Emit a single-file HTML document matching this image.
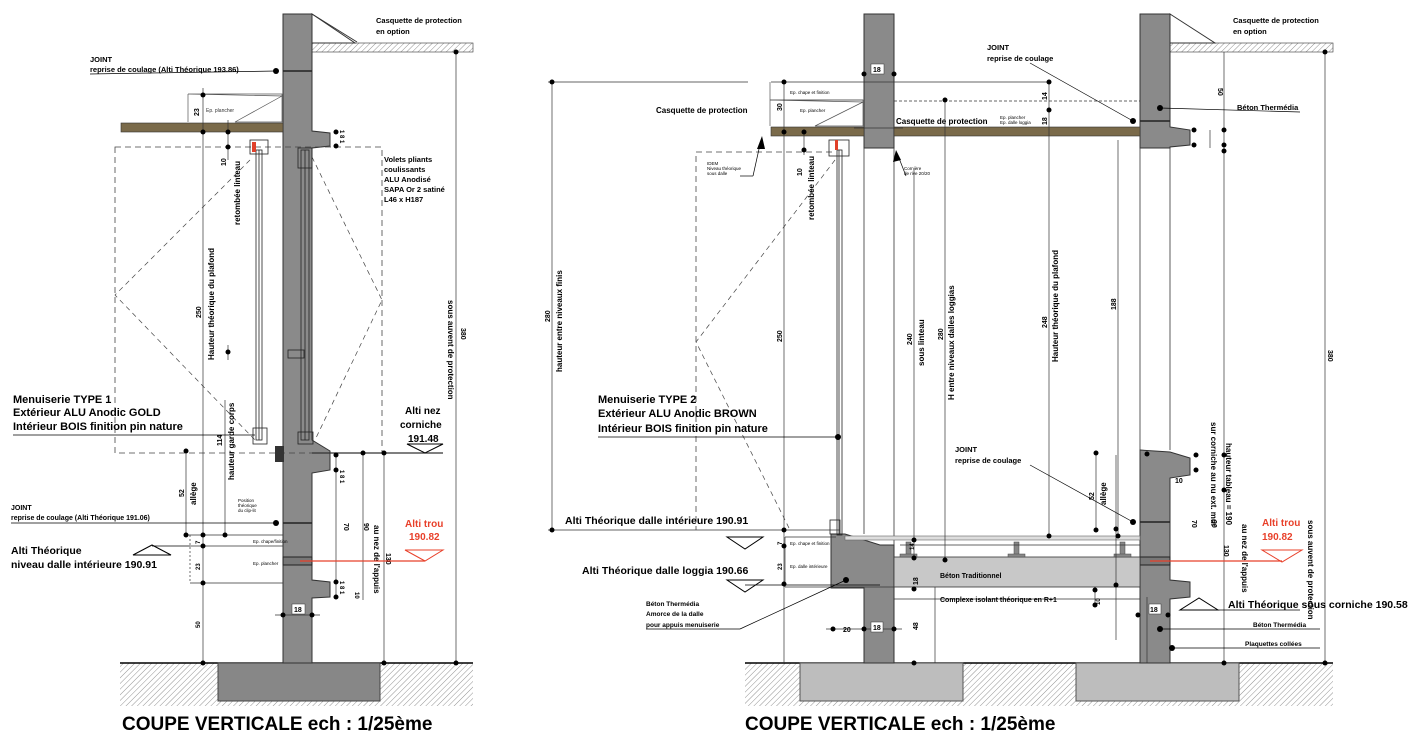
<!DOCTYPE html>
<html><head><meta charset="utf-8"><style>
html,body{margin:0;padding:0;background:#fff;}
svg{display:block;font-family:"Liberation Sans",sans-serif;}
.b{font-weight:bold;}
</style></head><body>
<svg width="1426" height="741" viewBox="0 0 1426 741" xmlns="http://www.w3.org/2000/svg">
<defs>
<pattern id="h" width="4" height="4" patternUnits="userSpaceOnUse" patternTransform="rotate(45)">
<line x1="0" y1="0" x2="0" y2="4" stroke="#777" stroke-width="0.8"/></pattern>
</defs>
<rect width="1426" height="741" fill="#fff"/>

<!-- ============ LEFT DRAWING ============ -->
<rect x="120" y="663" width="353" height="43" fill="url(#h)"/>
<line x1="120" y1="663" x2="473" y2="663" stroke="#000" stroke-width="1.5"/>
<rect x="218" y="663" width="162" height="38" fill="#878787" stroke="#444"/>
<polygon points="283,14 312,14 312,131 330,133 330,146 312,148 312,440 330,451 330,470 312,473 312,580 330,582 330,597 312,598 312,663 283,663" fill="#8a8a8a" stroke="#333"/>
<line x1="283" y1="71" x2="312" y2="71" stroke="#222" stroke-width="1.5"/>
<line x1="283" y1="523" x2="312" y2="523" stroke="#222" stroke-width="1.5"/>
<rect x="283" y="557" width="29" height="8" fill="#777" stroke="#222"/>
<polygon points="312,14 355,43 312,43" fill="#fff" stroke="#333"/>
<line x1="312" y1="14" x2="357" y2="42" stroke="#333"/>
<rect x="312" y="43" width="161" height="9" fill="url(#h)" stroke="#333" stroke-width="0.6"/>
<rect x="121" y="123" width="162" height="9" fill="#7a6a4a" stroke="#333" stroke-width="0.6"/>
<polygon points="188,94 282,94 282,122 235,122 282,96" fill="none" stroke="#555" stroke-width="0.7"/>
<line x1="188" y1="94" x2="188" y2="122" stroke="#555" stroke-width="0.7"/>
<text x="206" y="112" font-size="5" fill="#333">Ep. plancher</text>
<text transform="translate(199,116) rotate(-90)" font-size="7" class="b">23</text>
<rect x="115" y="147" width="267" height="306" fill="none" stroke="#444" stroke-dasharray="6,4" stroke-width="0.8"/>
<polyline points="250,160 115,295 255,440" fill="none" stroke="#444" stroke-dasharray="5,4" stroke-width="0.7"/>
<polyline points="312,157 382,300 315,440" fill="none" stroke="#444" stroke-dasharray="5,4" stroke-width="0.7"/>
<g stroke="#222" stroke-width="0.8" fill="none">
<rect x="256" y="150" width="6" height="290"/><line x1="259" y1="150" x2="259" y2="440"/>
<rect x="301" y="150" width="8" height="290"/><line x1="305" y1="150" x2="305" y2="440"/>
<rect x="250" y="140" width="18" height="14"/><rect x="253" y="428" width="14" height="16"/>
<rect x="298" y="148" width="14" height="20"/><rect x="298" y="432" width="15" height="12"/>
<rect x="288" y="350" width="16" height="8"/>
</g>
<rect x="252" y="142" width="4" height="10" fill="#e0402a"/>
<rect x="275" y="446" width="9" height="16" fill="#333"/>
<g stroke="#333" stroke-width="0.7">
<line x1="203" y1="88" x2="203" y2="663"/>
<line x1="228" y1="120" x2="228" y2="160"/>
<line x1="228" y1="345" x2="228" y2="360"/>
<line x1="186" y1="450" x2="186" y2="535"/>
<line x1="225" y1="400" x2="225" y2="535"/>
<line x1="336" y1="455" x2="336" y2="597"/>
<line x1="363" y1="453" x2="363" y2="600"/>
<line x1="384" y1="453" x2="384" y2="663"/>
<line x1="456" y1="52" x2="456" y2="663"/>
<line x1="185" y1="535" x2="283" y2="535"/>
<line x1="190" y1="546" x2="283" y2="546"/>
<line x1="190" y1="583" x2="283" y2="583"/>
<line x1="190" y1="535" x2="190" y2="583" stroke-dasharray="2,2"/>
<line x1="275" y1="615" x2="320" y2="615"/>
<line x1="312" y1="453" x2="443" y2="453" stroke-width="1.2"/>
</g>
<g fill="#000">
<circle cx="203" cy="132" r="2.5"/><circle cx="203" cy="95" r="2.5"/><circle cx="228" cy="132" r="2.5"/><circle cx="228" cy="147" r="2.5"/>
<circle cx="228" cy="352" r="2.5"/><circle cx="186" cy="451" r="2.5"/><circle cx="186" cy="535" r="2.5"/><circle cx="203" cy="535" r="2.5"/><circle cx="225" cy="535" r="2.5"/>
<circle cx="203" cy="546" r="2.5"/><circle cx="203" cy="583" r="2.5"/><circle cx="203" cy="663" r="2.5"/>
<circle cx="336" cy="455" r="2.5"/><circle cx="336" cy="470" r="2.5"/><circle cx="336" cy="582" r="2.5"/><circle cx="336" cy="597" r="2.5"/>
<circle cx="363" cy="453" r="2.5"/><circle cx="384" cy="453" r="2.5"/><circle cx="384" cy="663" r="2.5"/><circle cx="456" cy="52" r="2.5"/><circle cx="456" cy="663" r="2.5"/>
<circle cx="283" cy="615" r="2.5"/><circle cx="312" cy="615" r="2.5"/>
<circle cx="336" cy="132" r="2.5"/><circle cx="336" cy="146" r="2.5"/>
</g>
<text transform="translate(201,318) rotate(-90)" font-size="7" class="b">250</text>
<text transform="translate(214,360) rotate(-90)" font-size="8" class="b">Hauteur théorique du plafond</text>
<text transform="translate(226,166) rotate(-90)" font-size="7" class="b">10</text>
<text transform="translate(240,225) rotate(-90)" font-size="8" class="b">retombée linteau</text>
<text transform="translate(184,497) rotate(-90)" font-size="7" class="b">52</text>
<text transform="translate(196,505) rotate(-90)" font-size="8" class="b">allège</text>
<text transform="translate(222,446) rotate(-90)" font-size="7" class="b">114</text>
<text transform="translate(234,480) rotate(-90)" font-size="8" class="b">hauteur garde corps</text>
<text transform="translate(200,544) rotate(-90)" font-size="6" class="b">7</text>
<text transform="translate(200,570) rotate(-90)" font-size="6" class="b">23</text>
<text transform="translate(200,628) rotate(-90)" font-size="6" class="b">50</text>
<text x="253" y="543" font-size="4.5">Ep. chape/finition</text>
<text x="253" y="565" font-size="4.5">Ep. plancher</text>
<text x="238" y="502" font-size="4.5">Position</text><text x="238" y="507" font-size="4.5">théorique</text><text x="238" y="512" font-size="4.5">du clip-lit</text>
<rect x="292" y="604" width="13" height="10" fill="#fff" stroke="#333" stroke-width="0.5"/>
<text x="294" y="612" font-size="7" class="b">18</text>
<text transform="translate(340,470) rotate(90)" font-size="6" class="b">1 8 1</text>
<text transform="translate(340,581) rotate(90)" font-size="6" class="b">1 8 1</text>
<text transform="translate(340,130) rotate(90)" font-size="6" class="b">1 8 1</text>
<text transform="translate(344,523) rotate(90)" font-size="7" class="b">70</text>
<text transform="translate(364,523) rotate(90)" font-size="7" class="b">90</text>
<text transform="translate(374,525) rotate(90)" font-size="8" class="b">au nez de l'appuis</text>
<text transform="translate(386,553) rotate(90)" font-size="7" class="b">130</text>
<text transform="translate(448,300) rotate(90)" font-size="8" class="b">sous auvent de protection</text>
<text transform="translate(461,328) rotate(90)" font-size="7" class="b">380</text>
<text transform="translate(355,592) rotate(90)" font-size="6" class="b">10</text>

<text x="90" y="62" font-size="7.5" class="b">JOINT</text>
<text x="90" y="72" font-size="7.5" class="b">reprise de coulage (Alti Théorique 193.86)</text>
<line x1="90" y1="74" x2="276" y2="71" stroke="#000" stroke-width="0.8"/><circle cx="276" cy="71" r="3"/>
<text x="384" y="162" font-size="7.5" class="b">Volets pliants</text>
<text x="384" y="172" font-size="7.5" class="b">coulissants</text>
<text x="384" y="182" font-size="7.5" class="b">ALU Anodisé</text>
<text x="384" y="192" font-size="7.5" class="b">SAPA Or 2 satiné</text>
<text x="384" y="202" font-size="7.5" class="b">L46 x H187</text>
<text x="376" y="23" font-size="7.5" class="b">Casquette de protection</text>
<text x="376" y="34" font-size="7.5" class="b">en option</text>
<text x="13" y="403" font-size="11" class="b">Menuiserie TYPE 1</text>
<text x="13" y="416" font-size="11" class="b">Extérieur ALU Anodic GOLD</text>
<text x="13" y="430" font-size="11" class="b">Intérieur BOIS finition pin nature</text>
<line x1="13" y1="435" x2="255" y2="435" stroke="#000" stroke-width="0.8"/>
<text x="405" y="414" font-size="10" class="b">Alti nez</text>
<text x="400" y="428" font-size="10" class="b">corniche</text>
<text x="408" y="442" font-size="10" class="b">191.48</text>
<polygon points="407,444 443,444 425,453" fill="#fff" stroke="#000"/>
<text x="405" y="527" font-size="10" class="b" fill="#e8402a">Alti trou</text>
<text x="409" y="540" font-size="10" class="b" fill="#e8402a">190.82</text>
<polygon points="405,550 443,550 425,561" fill="#fff" stroke="#e8402a"/>
<line x1="300" y1="561" x2="425" y2="561" stroke="#e8402a" stroke-width="1.2"/>
<text x="11" y="510" font-size="7" class="b">JOINT</text>
<text x="11" y="520" font-size="7" class="b">reprise de coulage (Alti Théorique 191.06)</text>
<line x1="11" y1="523" x2="276" y2="523" stroke="#000" stroke-width="0.8"/><circle cx="276" cy="523" r="3"/>
<text x="11" y="554" font-size="10.5" class="b">Alti Théorique</text>
<text x="11" y="568" font-size="10.5" class="b">niveau dalle intérieure 190.91</text>
<polygon points="133,555 171,555 152,545" fill="#fff" stroke="#000"/>
<line x1="152" y1="546" x2="190" y2="546" stroke="#000" stroke-width="0.8"/>
<text x="122" y="730" font-size="19" class="b">COUPE VERTICALE ech : 1/25ème</text>

<!-- ============ RIGHT DRAWING ============ -->
<rect x="745" y="663" width="588" height="43" fill="url(#h)"/>
<line x1="745" y1="663" x2="1333" y2="663" stroke="#000" stroke-width="1.5"/>
<rect x="800" y="663" width="163" height="38" fill="#bdbdbd" stroke="#555"/>
<rect x="1076" y="663" width="163" height="38" fill="#bdbdbd" stroke="#555"/>
<rect x="864" y="14" width="30" height="134" fill="#8a8a8a" stroke="#333"/>
<polygon points="831,534 845,534 880,545 894,545 894,663 864,663 864,588 831,588" fill="#8a8a8a" stroke="#333"/>
<polygon points="1140,14 1170,14 1170,127 1190,130 1190,145 1170,147 1170,148 1140,148" fill="#8a8a8a" stroke="#333"/>
<polygon points="1140,450 1170,452 1190,458 1190,475 1170,478 1170,580 1190,582 1190,597 1170,599 1170,663 1140,663" fill="#8a8a8a" stroke="#333"/>
<line x1="1140" y1="121" x2="1170" y2="121" stroke="#222" stroke-width="1.5"/>
<line x1="1140" y1="522" x2="1170" y2="522" stroke="#222" stroke-width="1.5"/>
<rect x="1140" y="557" width="30" height="8" fill="#777" stroke="#222"/>
<line x1="1140" y1="148" x2="1140" y2="450" stroke="#333" stroke-width="0.8"/>
<line x1="1170" y1="148" x2="1170" y2="450" stroke="#333" stroke-width="0.8"/>
<line x1="864" y1="148" x2="864" y2="534" stroke="#333" stroke-width="0.8"/>
<line x1="894" y1="148" x2="894" y2="545" stroke="#333" stroke-width="0.8"/>
<polygon points="1170,14 1215,43 1170,43" fill="#fff" stroke="#333"/>
<rect x="1170" y="43" width="163" height="9" fill="url(#h)" stroke="#333" stroke-width="0.6"/>
<rect x="771" y="127" width="93" height="9" fill="#7a6a4a" stroke="#333" stroke-width="0.6"/>
<rect x="894" y="127" width="246" height="9" fill="#7a6a4a" stroke="#333" stroke-width="0.6"/>
<polygon points="770,100 863,100 863,126 815,126 863,102" fill="none" stroke="#555" stroke-width="0.7"/>
<line x1="770" y1="82" x2="770" y2="126" stroke="#555" stroke-width="0.7"/>
<line x1="770" y1="100" x2="863" y2="100" stroke="#555" stroke-width="0.7"/>
<text x="790" y="94" font-size="4.5">Ep. chape et finition</text>
<text x="800" y="112" font-size="4.5">Ep. plancher</text>
<rect x="894" y="557" width="246" height="30" fill="#c8c8c8" stroke="#333" stroke-width="0.8"/>
<line x1="894" y1="599" x2="1140" y2="599" stroke="#333" stroke-width="0.8"/>
<rect x="845" y="536" width="295" height="4" fill="#ddd" stroke="#666" stroke-width="0.6"/>
<g fill="#888" stroke="#444" stroke-width="0.5">
<rect x="906" y="542" width="5" height="14"/><rect x="900" y="554" width="17" height="3"/>
<rect x="1014" y="542" width="5" height="14"/><rect x="1008" y="554" width="17" height="3"/>
<rect x="1120" y="542" width="5" height="14"/><rect x="1114" y="554" width="17" height="3"/>
</g>
<polyline points="832,152 696,152 696,530" fill="none" stroke="#444" stroke-dasharray="6,4" stroke-width="0.8"/>
<polyline points="835,160 696,342 790,530" fill="none" stroke="#444" stroke-dasharray="5,4" stroke-width="0.7"/>
<g stroke="#222" stroke-width="0.8" fill="none">
<rect x="837" y="150" width="5" height="385"/><line x1="839" y1="150" x2="839" y2="535"/>
<rect x="829" y="140" width="20" height="16"/><rect x="830" y="520" width="10" height="14"/>
</g>
<rect x="835" y="140" width="3" height="10" fill="#e0402a"/>
<g stroke="#333" stroke-width="0.7">
<line x1="552" y1="82" x2="552" y2="530"/><line x1="548" y1="82" x2="748" y2="82"/>
<line x1="784" y1="82" x2="784" y2="663"/>
<line x1="804" y1="130" x2="804" y2="155"/>
<line x1="914" y1="170" x2="914" y2="560"/>
<line x1="945" y1="100" x2="945" y2="560"/>
<line x1="1049" y1="82" x2="1049" y2="536"/>
<line x1="1118" y1="140" x2="1118" y2="536"/>
<line x1="1224" y1="52" x2="1224" y2="663"/>
<line x1="1325" y1="52" x2="1325" y2="663"/>
<line x1="1210" y1="130" x2="1210" y2="148"/>
<line x1="771" y1="82" x2="1050" y2="82"/>
<line x1="894" y1="101" x2="1140" y2="101" stroke-dasharray="3,2"/>
<line x1="854" y1="128" x2="903" y2="128"/>
<line x1="1096" y1="453" x2="1096" y2="530"/>
<line x1="1116" y1="455" x2="1116" y2="640"/>
<line x1="1147" y1="597" x2="1147" y2="663"/>
<line x1="935" y1="587" x2="935" y2="663"/>
<line x1="1095" y1="590" x2="1095" y2="605"/>
<line x1="826" y1="629" x2="902" y2="629"/>
<line x1="900" y1="545" x2="1140" y2="545"/>
<line x1="548" y1="530" x2="840" y2="530"/>
<line x1="785" y1="537" x2="836" y2="537"/>
<line x1="785" y1="587" x2="894" y2="587"/>
<line x1="785" y1="537" x2="785" y2="587"/>
</g>
<g fill="#000">
<circle cx="552" cy="82" r="2.5"/><circle cx="552" cy="530" r="2.5"/><circle cx="784" cy="82" r="2.5"/><circle cx="784" cy="132" r="2.5"/><circle cx="804" cy="132" r="2.5"/><circle cx="804" cy="150" r="2.5"/>
<circle cx="864" cy="74" r="2.5"/><circle cx="894" cy="74" r="2.5"/><circle cx="1049" cy="82" r="2.5"/><circle cx="1049" cy="110" r="2.5"/><circle cx="945" cy="100" r="2.5"/>
<circle cx="784" cy="530" r="2.5"/><circle cx="784" cy="546" r="2.5"/><circle cx="784" cy="584" r="2.5"/><circle cx="914" cy="540" r="2.5"/><circle cx="914" cy="558" r="2.5"/><circle cx="914" cy="589" r="2.5"/><circle cx="914" cy="663" r="2.5"/><circle cx="945" cy="560" r="2.5"/>
<circle cx="1049" cy="536" r="2.5"/><circle cx="1118" cy="536" r="2.5"/><circle cx="1224" cy="151" r="2.5"/><circle cx="1224" cy="663" r="2.5"/><circle cx="1325" cy="52" r="2.5"/><circle cx="1325" cy="663" r="2.5"/>
<circle cx="1194" cy="130" r="2.5"/><circle cx="1194" cy="145" r="2.5"/><circle cx="1224" cy="130" r="2.5"/><circle cx="1224" cy="145" r="2.5"/>
<circle cx="1196" cy="455" r="2.5"/><circle cx="1196" cy="470" r="2.5"/><circle cx="1224" cy="455" r="2.5"/><circle cx="1224" cy="490" r="2.5"/><circle cx="1147" cy="454" r="2.5"/>
<circle cx="1096" cy="453" r="2.5"/><circle cx="1096" cy="530" r="2.5"/><circle cx="1116" cy="529" r="2.5"/><circle cx="1116" cy="585" r="2.5"/>
<circle cx="1095" cy="590" r="2.5"/><circle cx="1095" cy="605" r="2.5"/><circle cx="833" cy="629" r="2.5"/><circle cx="864" cy="629" r="2.5"/><circle cx="894" cy="629" r="2.5"/>
<circle cx="1138" cy="615" r="2.5"/><circle cx="1168" cy="615" r="2.5"/>
</g>
<text transform="translate(550,322) rotate(-90)" font-size="7" class="b">280</text>
<text transform="translate(562,372) rotate(-90)" font-size="8" class="b">hauteur entre niveaux finis</text>
<text transform="translate(782,342) rotate(-90)" font-size="7" class="b">250</text>
<text transform="translate(802,176) rotate(-90)" font-size="7" class="b">10</text>
<text transform="translate(814,220) rotate(-90)" font-size="8" class="b">retombée linteau</text>
<text transform="translate(912,345) rotate(-90)" font-size="7" class="b">240</text>
<text transform="translate(924,366) rotate(-90)" font-size="8" class="b">sous linteau</text>
<text transform="translate(943,340) rotate(-90)" font-size="7" class="b">280</text>
<text transform="translate(954,400) rotate(-90)" font-size="8" class="b">H entre niveaux dalles loggias</text>
<text transform="translate(1047,328) rotate(-90)" font-size="7" class="b">248</text>
<text transform="translate(1058,362) rotate(-90)" font-size="8" class="b">Hauteur théorique du plafond</text>
<text transform="translate(1116,310) rotate(-90)" font-size="7" class="b">188</text>
<text transform="translate(1226,443) rotate(90)" font-size="8" class="b">hauteur tableau = 190</text>
<text transform="translate(1211,422) rotate(90)" font-size="8" class="b">sur corniche au nu ext. mur</text>
<text transform="translate(1308,520) rotate(90)" font-size="8" class="b">sous auvent de protection</text>
<text transform="translate(1328,350) rotate(90)" font-size="7" class="b">380</text>
<text transform="translate(1218,88) rotate(90)" font-size="7" class="b">50</text>
<text transform="translate(1047,100) rotate(-90)" font-size="7" class="b">14</text>
<text transform="translate(1047,125) rotate(-90)" font-size="7" class="b">18</text>
<text transform="translate(782,111) rotate(-90)" font-size="7" class="b">30</text>
<text transform="translate(1094,500) rotate(-90)" font-size="7" class="b">52</text>
<text transform="translate(1106,505) rotate(-90)" font-size="8" class="b">allège</text>
<text transform="translate(1192,520) rotate(90)" font-size="7" class="b">70</text>
<text transform="translate(1212,520) rotate(90)" font-size="7" class="b">90</text>
<text transform="translate(1242,524) rotate(90)" font-size="8" class="b">au nez de l'appuis</text>
<text transform="translate(1224,545) rotate(90)" font-size="7" class="b">130</text>
<text transform="translate(914,550) rotate(-90)" font-size="6" class="b">14</text>
<text transform="translate(918,585) rotate(-90)" font-size="7" class="b">18</text>
<text transform="translate(918,630) rotate(-90)" font-size="7" class="b">48</text>
<text transform="translate(1100,605) rotate(-90)" font-size="6" class="b">10</text>
<text transform="translate(782,545) rotate(-90)" font-size="6" class="b">7</text>
<text transform="translate(782,570) rotate(-90)" font-size="6" class="b">23</text>
<text x="790" y="545" font-size="4.5">Ep. chape et finition</text>
<text x="790" y="568" font-size="4.5">Ep. dalle intérieure</text>
<text x="843" y="632" font-size="7" class="b">20</text>
<rect x="871" y="622" width="12" height="10" fill="#fff" stroke="#333" stroke-width="0.5"/><text x="873" y="630" font-size="7" class="b">18</text>
<rect x="871" y="64" width="13" height="10" fill="#fff" stroke="#333" stroke-width="0.5"/><text x="873" y="72" font-size="7" class="b">18</text>
<rect x="1149" y="604" width="12" height="10" fill="#fff" stroke="#333" stroke-width="0.5"/><text x="1150" y="612" font-size="7" class="b">18</text>
<text x="1175" y="483" font-size="7" class="b">10</text>
<text x="1000" y="119" font-size="4.5">Ep. plancher</text>
<text x="1000" y="124" font-size="4.5">Ep. dalle loggia</text>
<text x="707" y="165" font-size="4.5">IDEM</text><text x="707" y="170" font-size="4.5">Niveau théorique</text><text x="707" y="175" font-size="4.5">sous dalle</text>
<line x1="740" y1="176" x2="753" y2="176" stroke="#000" stroke-width="0.7"/>
<line x1="753" y1="176" x2="761" y2="140" stroke="#000" stroke-width="0.7"/>
<polygon points="762,136 757,149 765,149" fill="#000"/>
<text x="904" y="170" font-size="4.5">Cornière</text><text x="904" y="175" font-size="4.5">de rive 20/20</text>
<line x1="906" y1="176" x2="897" y2="153" stroke="#000" stroke-width="0.7"/>
<polygon points="896,150 893,162 901,160" fill="#000"/>

<text x="1233" y="23" font-size="7.5" class="b">Casquette de protection</text>
<text x="1233" y="34" font-size="7.5" class="b">en option</text>
<text x="987" y="50" font-size="7.5" class="b">JOINT</text>
<text x="987" y="61" font-size="7.5" class="b">reprise de coulage</text>
<line x1="1030" y1="63" x2="1133" y2="121" stroke="#000" stroke-width="0.7"/><circle cx="1133" cy="121" r="3"/>
<text x="1237" y="110" font-size="7.5" class="b">Béton Thermédia</text>
<line x1="1160" y1="108" x2="1300" y2="112" stroke="#000" stroke-width="0.7"/><circle cx="1160" cy="108" r="3"/>
<text x="656" y="113" font-size="8" class="b">Casquette de protection</text>
<text x="896" y="124" font-size="8" class="b">Casquette de protection</text>
<text x="598" y="403" font-size="11" class="b">Menuiserie TYPE  2</text>
<text x="598" y="417" font-size="11" class="b">Extérieur ALU Anodic BROWN</text>
<text x="598" y="432" font-size="11" class="b">Intérieur BOIS finition pin nature</text>
<line x1="598" y1="437" x2="838" y2="437" stroke="#000" stroke-width="0.8"/><circle cx="838" cy="437" r="3"/>
<text x="565" y="524" font-size="10.5" class="b">Alti Théorique dalle intérieure 190.91</text>
<polygon points="727,537 763,537 745,549" fill="#fff" stroke="#000"/>
<text x="582" y="574" font-size="10.5" class="b">Alti Théorique dalle loggia 190.66</text>
<polygon points="727,580 763,580 745,592" fill="#fff" stroke="#000"/>
<line x1="745" y1="585" x2="880" y2="585" stroke="#000" stroke-width="0.8"/>
<text x="646" y="606" font-size="6.5" class="b">Béton Thermédia</text>
<text x="646" y="616" font-size="6.5" class="b">Amorce de la dalle</text>
<text x="646" y="627" font-size="6.5" class="b">pour appuis menuiserie</text>
<line x1="646" y1="629" x2="740" y2="629" stroke="#000" stroke-width="0.7"/>
<line x1="740" y1="629" x2="846" y2="580" stroke="#000" stroke-width="0.7"/><circle cx="846" cy="580" r="3"/>
<text x="940" y="578" font-size="7" class="b">Béton Traditionnel</text>
<text x="940" y="602" font-size="7" class="b">Complexe isolant théorique en R+1</text>
<text x="955" y="452" font-size="7.5" class="b">JOINT</text>
<text x="955" y="463" font-size="7.5" class="b">reprise de coulage</text>
<line x1="1030" y1="465" x2="1133" y2="522" stroke="#000" stroke-width="0.7"/><circle cx="1133" cy="522" r="3"/>
<text x="1262" y="526" font-size="10" class="b" fill="#e8402a">Alti trou</text>
<text x="1262" y="540" font-size="10" class="b" fill="#e8402a">190.82</text>
<polygon points="1262,550 1302,550 1282,562" fill="#fff" stroke="#e8402a"/>
<line x1="1150" y1="561" x2="1282" y2="561" stroke="#e8402a" stroke-width="1.2"/>
<polygon points="1180,610 1218,610 1199,598" fill="#fff" stroke="#000"/>
<line x1="1180" y1="610" x2="1300" y2="610" stroke="#000" stroke-width="0.8"/>
<text x="1228" y="608" font-size="10.5" class="b">Alti Théorique sous corniche 190.58</text>
<text x="1253" y="627" font-size="6.5" class="b">Béton Thermédia</text>
<line x1="1160" y1="629" x2="1320" y2="629" stroke="#000" stroke-width="0.7"/><circle cx="1160" cy="629" r="3"/>
<text x="1245" y="646" font-size="6.5" class="b">Plaquettes collées</text>
<line x1="1172" y1="648" x2="1320" y2="648" stroke="#000" stroke-width="0.7"/><circle cx="1172" cy="648" r="3"/>
<text x="745" y="730" font-size="19" class="b">COUPE VERTICALE ech : 1/25ème</text>
</svg>
</body></html>
